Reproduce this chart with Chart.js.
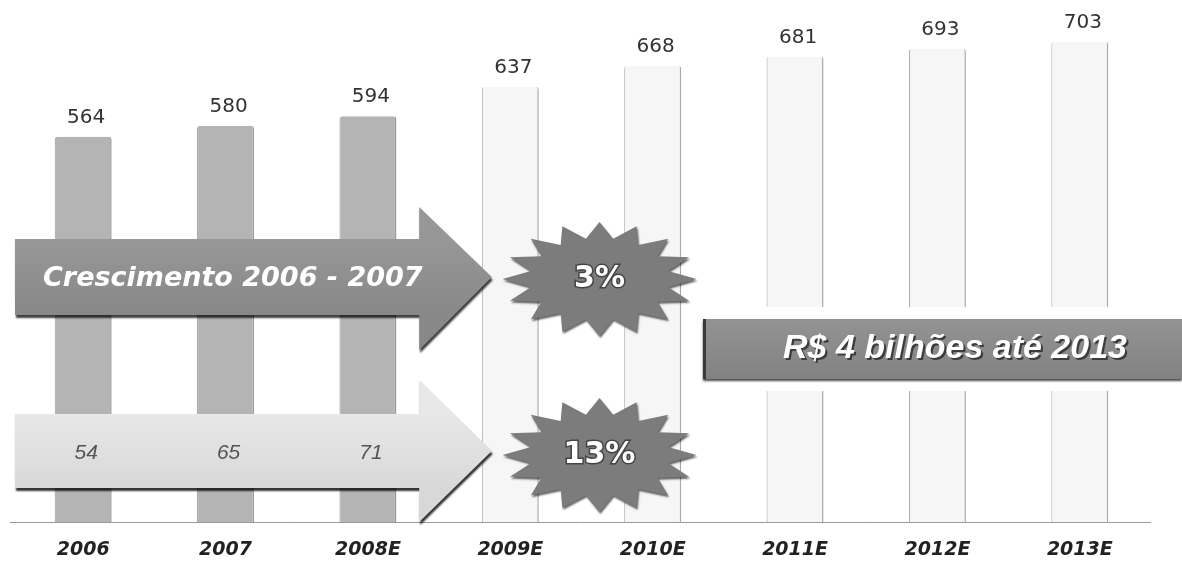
<!DOCTYPE html>
<html>
<head>
<meta charset="utf-8">
<script src="https://cdn.jsdelivr.net/npm/chart.js@4"></script>
<style>
  html, body { margin: 0; padding: 0; background: #fff; }
  #wrap { width: 1182px; height: 565px; position: relative; }
</style>
</head>
<body>
<div id="wrap"><canvas id="chart"></canvas></div>
<script>
// ── Data ─────────────────────────────────────────────
const years = ['2006', '2007', '2008E', '2009E', '2010E', '2011E', '2012E', '2013E'];
const mercado = [564, 580, 594, 637, 668, 681, 693, 703];
const investimento = [54, 65, 71];          // values printed inside the lower arrow
const crescimentoTexto = 'Crescimento 2006 - 2007';
const taxas = ['3%', '13%'];
const bannerTexto = 'R$ 4 bilhões até 2013';

const N_REAL = 3; // first three bars are darker (realised / 2008E)

const barFill = mercado.map((_, i) => i < N_REAL ? '#b4b4b4' : '#f6f6f6');
const barBorder = mercado.map((_, i) => i < N_REAL ? '#9a9a9a' : '#a8a8a8');

// ── Helpers ──────────────────────────────────────────
function starPath(ctx, cx, cy, rx, ry, points, inner) {
  ctx.beginPath();
  for (let i = 0; i < points * 2; i++) {
    const a = -Math.PI / 2 + i * Math.PI / points;
    const k = i % 2 === 0 ? 1 : inner;
    const px = cx + Math.cos(a) * rx * k;
    const py = cy + Math.sin(a) * ry * k;
    if (i === 0) ctx.moveTo(px, py); else ctx.lineTo(px, py);
  }
  ctx.closePath();
}

function arrowPath(ctx, x0, yTop, yBot, xHead, headTop, headBot, xTip) {
  const yMid = (yTop + yBot) / 2;
  ctx.beginPath();
  ctx.moveTo(x0, yTop);
  ctx.lineTo(xHead, yTop);
  ctx.lineTo(xHead, headTop);
  ctx.lineTo(xTip, yMid);
  ctx.lineTo(xHead, headBot);
  ctx.lineTo(xHead, yBot);
  ctx.lineTo(x0, yBot);
  ctx.closePath();
}

// ── Overlay plugin: baseline, value labels, arrows, stars, banner ──
const overlay = {
  id: 'overlay',
  beforeDatasetsDraw(chart) {
    const { ctx, chartArea } = chart;
    ctx.save();
    ctx.strokeStyle = '#9a9a9a';
    ctx.lineWidth = 1;
    ctx.beginPath();
    ctx.moveTo(chartArea.left - 2, chartArea.bottom + 0.5);
    ctx.lineTo(chartArea.right, chartArea.bottom + 0.5);
    ctx.stroke();
    ctx.restore();
  },
  afterDatasetsDraw(chart) {
    const { ctx, chartArea } = chart;
    const xs = chart.scales.x;
    const ys = chart.scales.y;
    ctx.save();

    // values above bars
    ctx.font = '20px "DejaVu Sans"';
    ctx.fillStyle = '#333';
    ctx.textAlign = 'center';
    ctx.textBaseline = 'middle';
    mercado.forEach((v, i) => {
      ctx.fillText(String(v), xs.getPixelForValue(i) + 3, ys.getPixelForValue(v) - 19);
    });

    const step = xs.getPixelForValue(1) - xs.getPixelForValue(0);
    const x0 = chartArea.left + 3;
    const xHead = xs.getPixelForValue(2) + step * 0.36;
    const xTip = xs.getPixelForValue(2) + step * 0.87;

    // upper arrow (dark)
    ctx.save();
    ctx.shadowColor = 'rgba(0,0,0,0.75)';
    ctx.shadowOffsetX = 1;
    ctx.shadowOffsetY = 3;
    ctx.shadowBlur = 2;
    arrowPath(ctx, x0, 239, 315, xHead, 207, 350, xTip);
    const g1 = ctx.createLinearGradient(0, 239, 0, 315);
    g1.addColorStop(0, '#979797');
    g1.addColorStop(1, '#888888');
    ctx.fillStyle = g1;
    ctx.fill();
    ctx.restore();

    ctx.font = 'italic bold 27px "DejaVu Sans"';
    ctx.fillStyle = '#fff';
    ctx.textAlign = 'left';
    ctx.fillText(crescimentoTexto, 43, 279);

    // lower arrow (light)
    ctx.save();
    ctx.shadowColor = 'rgba(0,0,0,0.8)';
    ctx.shadowOffsetX = 1;
    ctx.shadowOffsetY = 3;
    ctx.shadowBlur = 2;
    arrowPath(ctx, x0, 414, 488, xHead, 380, 522, xTip);
    const g2 = ctx.createLinearGradient(0, 414, 0, 488);
    g2.addColorStop(0, '#e8e8e8');
    g2.addColorStop(1, '#d8d8d8');
    ctx.fillStyle = g2;
    ctx.fill();
    ctx.restore();

    ctx.font = 'italic 21px "Liberation Sans"';
    ctx.fillStyle = '#555';
    ctx.textAlign = 'center';
    investimento.forEach((v, i) => {
      ctx.fillText(String(v), xs.getPixelForValue(i) + 3, 453);
    });

    // starbursts
    const starX = (xs.getPixelForValue(3) + xs.getPixelForValue(4)) / 2 + 18;
    [[279, taxas[0]], [455, taxas[1]]].forEach(([cy, txt]) => {
      ctx.save();
      ctx.shadowColor = 'rgba(0,0,0,0.6)';
      ctx.shadowOffsetX = 1;
      ctx.shadowOffsetY = 2;
      ctx.shadowBlur = 2;
      starPath(ctx, starX, cy, 97, 57, 16, 0.72);
      ctx.fillStyle = '#7c7c7c';
      ctx.fill();
      ctx.restore();
      ctx.font = 'bold 30px "DejaVu Sans"';
      ctx.lineWidth = 3;
      ctx.strokeStyle = '#444';
      ctx.strokeText(txt, starX, cy);
      ctx.fillStyle = '#fff';
      ctx.fillText(txt, starX, cy);
    });

    // banner
    const bx = 703, by = 319, bw = 479, bh = 60;
    ctx.fillStyle = '#fff';
    ctx.fillRect(bx - 8, by - 12, bw + 16, bh + 24);
    ctx.save();
    ctx.shadowColor = 'rgba(0,0,0,0.7)';
    ctx.shadowOffsetY = 2;
    ctx.shadowBlur = 2;
    const g3 = ctx.createLinearGradient(0, by, 0, by + bh);
    g3.addColorStop(0, '#939393');
    g3.addColorStop(1, '#828282');
    ctx.fillStyle = g3;
    ctx.fillRect(bx, by, bw, bh);
    ctx.restore();
    ctx.fillStyle = '#3a3a3a';
    ctx.fillRect(bx, by, 3, bh);
    ctx.font = 'italic bold 34px "Liberation Sans"';
    ctx.textAlign = 'center';
    ctx.fillStyle = 'rgba(40,40,40,0.8)';
    ctx.fillText(bannerTexto, 957, by + bh / 2 + 2);
    ctx.fillStyle = '#fff';
    ctx.fillText(bannerTexto, 955, by + bh / 2);

    ctx.restore();
  }
};

new Chart(document.getElementById('chart'), {
  type: 'bar',
  data: {
    labels: years,
    datasets: [{
      data: mercado,
      backgroundColor: barFill,
      borderColor: barBorder,
      borderWidth: { left: 1, right: 1.5, top: 0, bottom: 0 },
      borderRadius: { topLeft: 3, topRight: 3 },
      borderSkipped: false,
      categoryPercentage: 1,
      barPercentage: 0.4,
    }],
  },
  options: {
    responsive: true, maintainAspectRatio: false,
    animation: false,
    layout: { padding: { left: 12, right: 31, top: 11, bottom: 8 } },
    plugins: { legend: { display: false }, tooltip: { enabled: false } },
    scales: {
      y: { display: false, min: 0, max: 748 },
      x: {
        grid: { display: false, drawTicks: false },
        border: { display: false },
        afterFit(scale) { scale.height = 35; },
        ticks: {
          color: '#222',
          padding: 17,
          font: { family: 'DejaVu Sans', size: 19, style: 'italic', weight: 'bold' },
        },
      },
    },
  },
  plugins: [overlay],
});
</script>
</body>
</html>
